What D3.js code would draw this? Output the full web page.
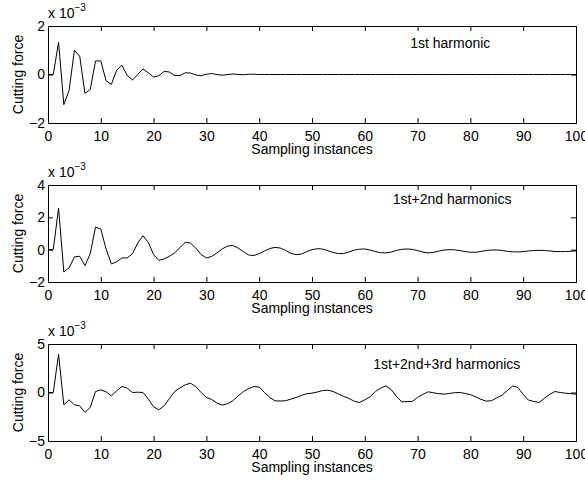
<!DOCTYPE html>
<html>
<head>
<meta charset="utf-8">
<script src="https://cdn.jsdelivr.net/npm/d3@7"></script>
<style>
  body { margin: 0; background: #fff; }
  svg { font-family: "Liberation Sans", Arial, Helvetica, sans-serif; }
  .axis text { font-size: 14px; fill: #000; }
  .axis line { stroke: #000; }
  .trace { fill: none; stroke: #000; stroke-width: 1; stroke-linejoin: round; }
</style>
</head>
<body>
<svg id="chart"></svg>
<script>
// values in units of 1e-3, one per sampling instance 0..100
var firstHarmonic = [
  0, 0, 1.33, -1.24, -0.65, 1.0, 0.76, -0.78, -0.62, 0.56,
  0.56, -0.26, -0.41, 0.18, 0.38, -0.04, -0.23, 0.0, 0.23, 0.07,
  -0.11, -0.05, 0.13, 0.1, -0.04, -0.04, 0.07, 0.06, -0.02, -0.05,
  0.01, 0.04, 0.0, -0.03, 0.0, 0.02, 0.0, -0.01, 0.01, 0.01,
  0, 0, 0, 0, 0, 0, 0, 0, 0, 0,
  0, 0, 0, 0, 0, 0, 0, 0, 0, 0,
  0, 0, 0, 0, 0, 0, 0, 0, 0, 0,
  0, 0, 0, 0, 0, 0, 0, 0, 0, 0,
  0, 0, 0, 0, 0, 0, 0, 0, 0, 0,
  0, 0, 0, 0, 0, 0, 0, 0, 0, 0,
  0
]

var firstSecond = [
  0, 0, 2.57, -1.38, -1.13, -0.45, -0.41, -0.99, -0.25, 1.40,
  1.27, 0.04, -0.88, -0.76, -0.51, -0.51, -0.25, 0.41, 0.86, 0.45,
  -0.31, -0.66, -0.57, -0.41, -0.2, 0.14, 0.45, 0.41, 0.1, -0.3,
  -0.51, -0.42, -0.2, 0.05, 0.22, 0.26, 0.1, -0.12, -0.33, -0.36,
  -0.25, -0.08, 0.07, 0.14, 0.1, -0.05, -0.22, -0.31, -0.27, -0.12,
  0.0, 0.06, 0.04, -0.06, -0.18, -0.24, -0.24, -0.14, -0.03, 0.03,
  0.04, -0.02, -0.12, -0.19, -0.2, -0.15, -0.05, 0.02, 0.04, 0.02,
  -0.06, -0.15, -0.2, -0.17, -0.09, -0.02, 0.0, -0.01, -0.06, -0.12,
  -0.16, -0.16, -0.11, -0.05, -0.02, -0.02, -0.05, -0.1, -0.13, -0.14,
  -0.12, -0.08, -0.05, -0.04, -0.05, -0.08, -0.11, -0.12, -0.12, -0.1,
  -0.08
]

var firstSecondThird = [
  0, 0, 3.94, -1.27, -0.75, -1.27, -1.37, -2.05, -1.54, 0.1,
  0.27, 0.07, -0.34, 0.17, 0.62, 0.45, 0.0, 0.03, 0.0, -0.68,
  -1.47, -1.78, -1.37, -0.62, 0.1, 0.48, 0.79, 0.96, 0.6, 0.0,
  -0.51, -0.72, -1.1, -1.3, -1.15, -0.85, -0.35, 0.1, 0.4, 0.62,
  0.55, 0.0, -0.5, -0.86, -0.88, -0.85, -0.68, -0.51, -0.3, -0.12,
  -0.07, 0.05, 0.2, 0.24, 0.1, -0.15, -0.4, -0.62, -0.9, -1.03,
  -0.75, -0.45, 0.1, 0.45, 0.68, 0.3, -0.4, -0.96, -0.94, -0.92,
  -0.5, -0.2, 0.07, -0.03, -0.12, -0.17, -0.1, -0.02, 0.0, -0.1,
  -0.22, -0.45, -0.7, -0.89, -0.85, -0.55, -0.27, 0.2, 0.68, 0.52,
  -0.2, -0.79, -0.92, -1.03, -0.6, -0.2, 0.1, 0.0, -0.07, -0.12,
  -0.17
]

var xTicks = [0, 10, 20, 30, 40, 50, 60, 70, 80, 90, 100]
var yDomains = [[-2, 2], [-2, 4], [-5, 5]]
var yTicks = [[-2, 0, 2], [-2, 0, 2, 4], [-5, 0, 5]]
var titles = ["1st harmonic", "1st+2nd harmonics", "1st+2nd+3rd harmonics"]
var titlePos = [[68.6, 1.1], [65.3, 2.84], [61.6, 2.46]]
var series = [firstHarmonic, firstSecond, firstSecondThird]

var width = 585, height = 481
var left = 48, right = 576
var panelTops = [26, 185, 344]
var panelHeight = 97

var svg = d3.select("#chart")
  .attr("width", width)
  .attr("height", height)

var x = d3.scaleLinear()
  .domain([0, 100])
  .range([left, right])

series.forEach(function(values, p) {
  var top = panelTops[p]
  var bottom = top + panelHeight

  var y = d3.scaleLinear()
    .domain(yDomains[p])
    .range([bottom, top])

  var g = svg.append("g")

  // bottom axis with labels, inward ticks
  g.append("g")
    .attr("class", "axis")
    .attr("transform", "translate(0," + bottom + ")")
    .call(d3.axisBottom(x).tickValues(xTicks).tickSizeInner(-5).tickSizeOuter(0).tickPadding(8))
    .call(function(a) { a.select(".domain").remove() })

  // top axis, ticks only
  g.append("g")
    .attr("class", "axis")
    .attr("transform", "translate(0," + top + ")")
    .call(d3.axisTop(x).tickValues(xTicks).tickSizeInner(-5).tickSizeOuter(0).tickFormat(""))
    .call(function(a) { a.select(".domain").remove() })

  g.append("g")
    .attr("class", "axis")
    .attr("transform", "translate(" + left + ",0)")
    .call(d3.axisLeft(y).tickValues(yTicks[p]).tickSizeInner(-5).tickSizeOuter(0).tickPadding(3)
      .tickFormat(function(d) { return d < 0 ? "\u2212" + Math.abs(d) : d }))
    .call(function(a) { a.select(".domain").remove() })

  g.append("g")
    .attr("class", "axis")
    .attr("transform", "translate(" + right + ",0)")
    .call(d3.axisRight(y).tickValues(yTicks[p]).tickSizeInner(-5).tickSizeOuter(0).tickFormat(""))
    .call(function(a) { a.select(".domain").remove() })

  g.append("rect")
    .attr("x", left + 0.5)
    .attr("y", top + 0.5)
    .attr("width", right - left)
    .attr("height", panelHeight)
    .attr("fill", "none")
    .attr("stroke", "#000")

  var line = d3.line()
    .x(function(d, i) { return x(i) })
    .y(function(d) { return y(d) })

  g.append("path")
    .datum(values)
    .attr("class", "trace")
    .attr("d", line)

  // exponent label
  var ex = g.append("text")
    .attr("x", left)
    .attr("y", top - 8)
    .attr("font-size", 14)
  ex.append("tspan").text("x 10")
  ex.append("tspan").attr("font-size", 10).attr("dy", -7).text("\u22123")

  g.append("text")
    .attr("transform", "translate(23," + (top + panelHeight / 2) + ") rotate(-90)")
    .attr("text-anchor", "middle")
    .attr("font-size", 14)
    .text("Cutting force")

  g.append("text")
    .attr("x", (left + right) / 2)
    .attr("y", bottom + 31)
    .attr("text-anchor", "middle")
    .attr("font-size", 14)
    .text("Sampling instances")

  g.append("text")
    .attr("x", x(titlePos[p][0]))
    .attr("y", y(titlePos[p][1]))
    .attr("font-size", 14)
    .text(titles[p])
})
</script>
</body>
</html>
